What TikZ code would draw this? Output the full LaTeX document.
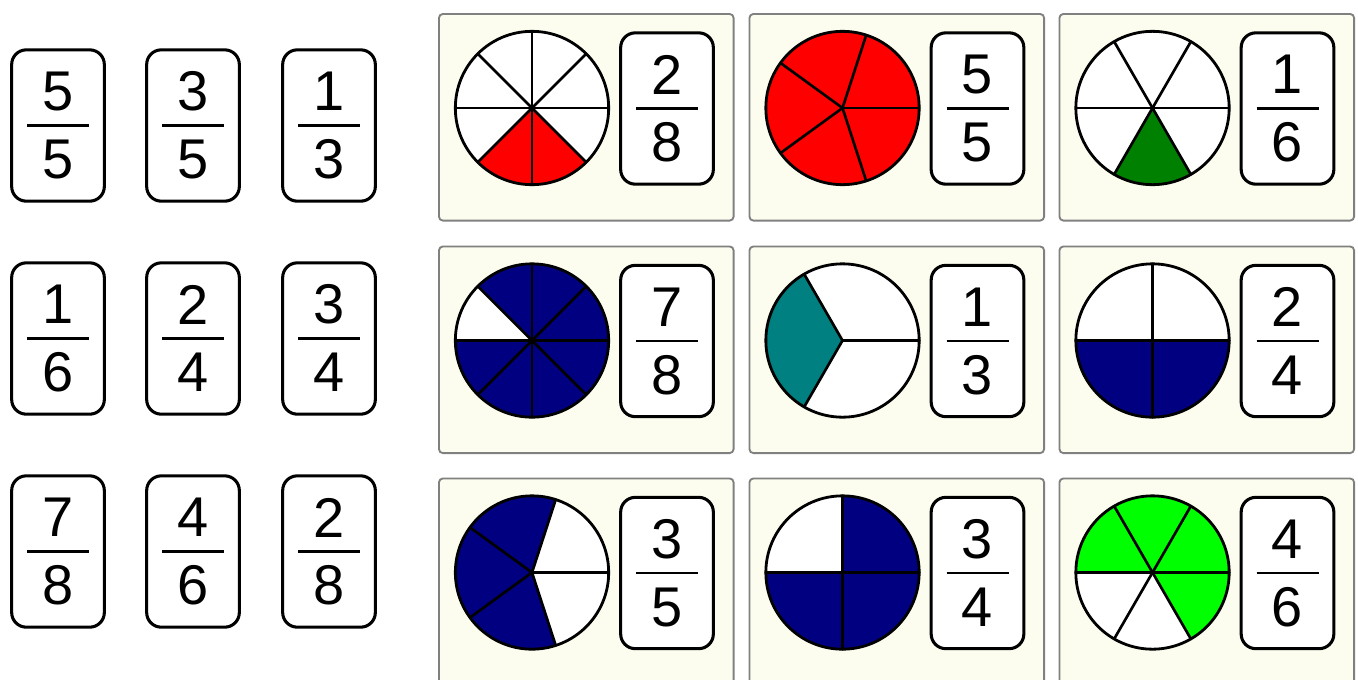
\documentclass[tikz,border=0pt]{standalone}
\usepackage{fontspec}
\setmainfont{Liberation Sans}
\usetikzlibrary{positioning, calc}
\definecolor{panelcream}{HTML}{FDFDEF}
\definecolor{panelgray}{HTML}{808080}
\definecolor{piered}{HTML}{FF0000}
\definecolor{piegreen}{HTML}{008000}
\definecolor{pienavy}{HTML}{000080}
\definecolor{pieteal}{HTML}{008080}
\definecolor{pielime}{HTML}{00FF00}

\tikzset{
  fraccard/.style={draw=black, line width=2.3pt, fill=white, rounded corners=11pt,
    minimum width=69.5pt, minimum height=113.5pt, inner sep=0pt},
  digit/.style={font=\fontsize{42}{42}\selectfont, inner sep=0pt},
  fracbar/.style={line width=2.2pt},
  panelbox/.style={draw=panelgray, line width=1.4pt, fill=panelcream, rounded corners=3pt,
    minimum width=221pt, minimum height=155pt, anchor=north west, inner sep=0pt},
  piespoke/.style={line width=2pt, line cap=round},
  pieedge/.style={line width=2.1pt},
}
\def\pier{57.5pt}

% Tarjeta con fraccion
\newcommand{\fraccardat}[4]{%
  \node[fraccard] (#1) at (#2) {};
  \node[digit] (#1-num) at ($(#1.center)+(0,-34)$) {#3};
  \node[digit] (#1-den) at ($(#1.center)+(0,34)$) {#4};
  \draw[fracbar] ($(#1.center)+(-31,0)$) -- ($(#1.center)+(31,0)$);
}

% Panel: circulo dividido + tarjeta
\newcommand{\fracpanel}[8]{%
  \node[panelbox] (#1) at (#2,#3) {};
  \coordinate (#1-pie) at ($(#1.north west)+(94,95)$);
  \fill[white] (#1-pie) circle[radius=\pier];
  \foreach \k in {#6}{
    \fill[#5] (#1-pie) -- ++(\k*360/#4:\pier)
      arc[start angle=\k*360/#4, delta angle=360/#4, radius=\pier] -- cycle;
  }
  \foreach \k in {1,...,#4}{
    \draw[piespoke] (#1-pie) -- ++(\k*360/#4:\pier);
  }
  \draw[pieedge] (#1-pie) circle[radius=\pier];
  \fraccardat{#1-card}{$(#1.north west)+(229,95.5)$}{#7}{#8}
}

\begin{document}
\begin{tikzpicture}[x=0.75pt, y=-0.75pt]
  \useasboundingbox (0,0) rectangle (1358,679);

  % Tarjetas sueltas a la izquierda
  \foreach \nm/\cx/\cy/\a/\b in {c11/58/125.5/5/5, c12/193/125.5/3/5, c13/329/125.5/1/3,
      c21/58/338.5/1/6, c22/193/338.5/2/4, c23/329/338.5/3/4,
      c31/58/551.5/7/8, c32/193/551.5/4/6, c33/329/551.5/2/8}{
    \fraccardat{\nm}{\cx,\cy}{\a}{\b}
  }

  % Fila superior
  \fracpanel{p11}{438}{13}{8}{piered}{5,6}{2}{8}
  \fracpanel{p12}{748.5}{13}{5}{piered}{0,1,2,3,4}{5}{5}
  \fracpanel{p13}{1058.5}{13}{6}{piegreen}{4}{1}{6}
  % Fila central
  \fracpanel{p21}{438}{245.5}{8}{pienavy}{0,1,2,4,5,6,7}{7}{8}
  \fracpanel{p22}{748.5}{245.5}{3}{pieteal}{1}{1}{3}
  \fracpanel{p23}{1058.5}{245.5}{4}{pienavy}{2,3}{2}{4}
  % Fila inferior (cortada)
  \fracpanel{p31}{438}{477.5}{5}{pienavy}{1,2,3}{3}{5}
  \fracpanel{p32}{748.5}{477.5}{4}{pienavy}{0,2,3}{3}{4}
  \fracpanel{p33}{1058.5}{477.5}{6}{pielime}{0,1,2,5}{4}{6}
\end{tikzpicture}
\end{document}
